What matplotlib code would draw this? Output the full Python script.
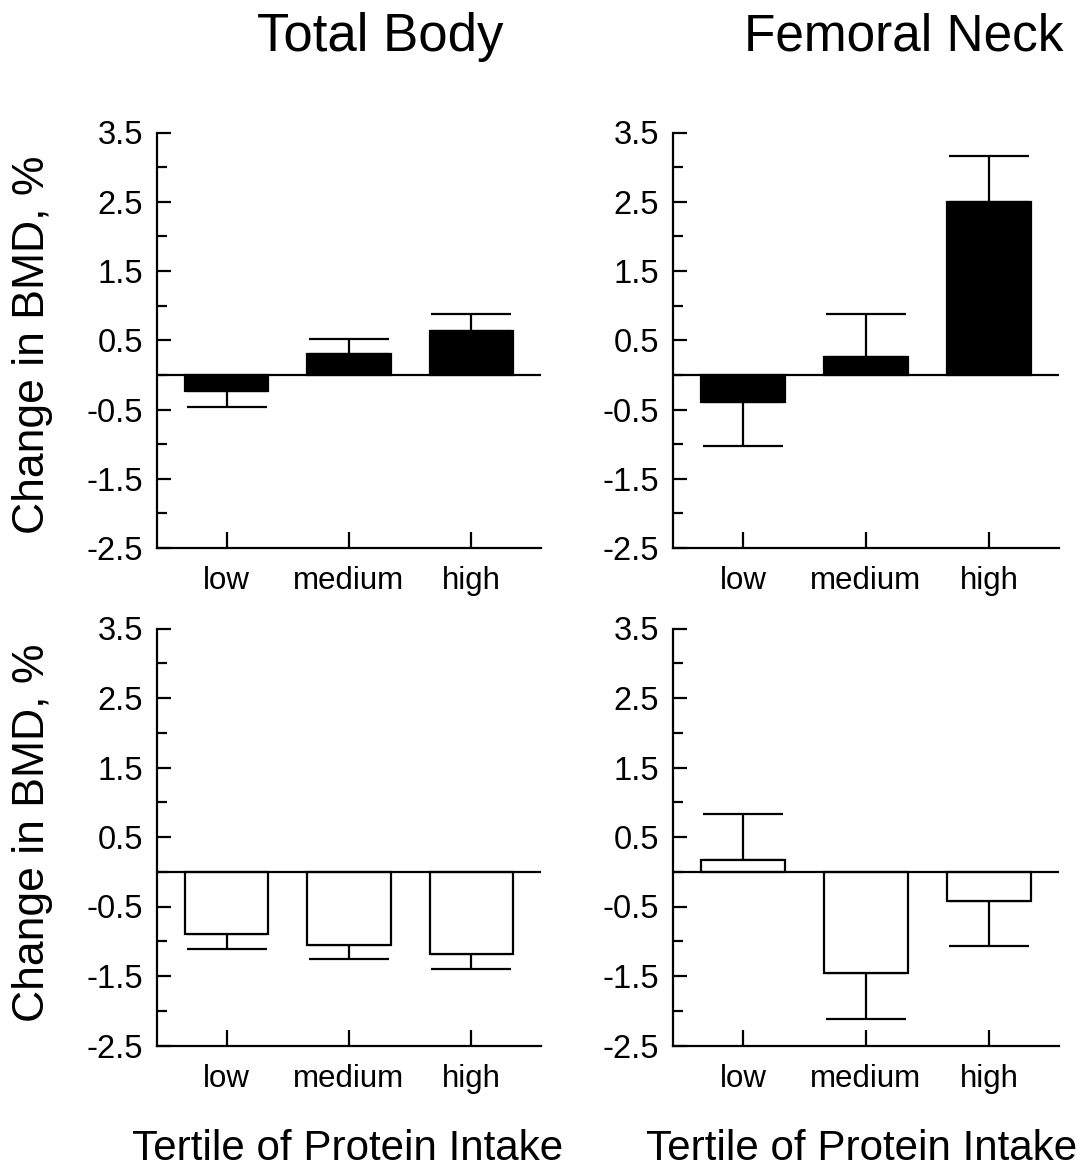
import matplotlib
matplotlib.use('Agg')
import matplotlib.pyplot as plt
import numpy as np

plt.rcParams['font.family'] = ['Liberation Sans', 'DejaVu Sans']
plt.rcParams['axes.unicode_minus'] = False

# tertiles of protein intake
tertiles = ['low', 'medium', 'high']

# mean change in BMD (%) and standard error per tertile
total_body_top = [-0.24, 0.30, 0.64]
total_body_top_se = [0.23, 0.22, 0.24]
femoral_neck_top = [-0.39, 0.26, 2.50]
femoral_neck_top_se = [0.64, 0.62, 0.66]

total_body_bottom = [-0.89, -1.06, -1.19]
total_body_bottom_se = [0.22, 0.20, 0.21]
femoral_neck_bottom = [0.17, -1.45, -0.42]
femoral_neck_bottom_se = [0.66, 0.67, 0.65]

yticks = [-2.5, -1.5, -0.5, 0.5, 1.5, 2.5, 3.5]
yticklabels = ['-2.5', '-1.5', '-0.5', '0.5', '1.5', '2.5', '3.5']
yminor = [-2, -1, 0, 1, 2, 3]

W, H = 1082, 1173
fig = plt.figure(figsize=(W / 100, H / 100), dpi=100)

LW = 1.6


def panel(rect, means, se, filled):
    ax = fig.add_axes(rect)
    x = np.arange(1, len(means) + 1)
    means = np.asarray(means)
    se = np.asarray(se)
    # error bar only on the side away from zero
    lower = np.where(means < 0, se, 0)
    upper = np.where(means >= 0, se, 0)
    ax.errorbar(x, means, yerr=[lower, upper], fmt='none', ecolor='black',
                elinewidth=LW, capsize=29, capthick=LW, zorder=1)
    ax.bar(x, means, width=0.68, color='black' if filled else 'white',
           edgecolor='black', linewidth=LW, zorder=2)
    ax.axhline(0, color='black', lw=LW, zorder=3)

    ax.set_xlim(0.43, 3.57)
    ax.set_ylim(-2.5, 3.5)
    ax.set_xticks(x)
    ax.set_xticklabels(tertiles)
    ax.set_yticks(yticks)
    ax.set_yticklabels(yticklabels)
    ax.set_yticks(yminor, minor=True)

    for s in ('top', 'right'):
        ax.spines[s].set_visible(False)
    for s in ('left', 'bottom'):
        ax.spines[s].set_linewidth(LW)

    ax.tick_params(axis='y', which='major', direction='in', length=10,
                   width=LW, labelsize=23.5, pad=10)
    ax.tick_params(axis='y', which='minor', direction='in', length=7,
                   width=LW)
    ax.tick_params(axis='x', which='major', direction='in', length=11.5,
                   width=LW, labelsize=22.5, pad=13)
    return ax


left_l, left_r = 157 / W, 673 / W
w_l, w_r = 384 / W, 386 / W
bot_t, h_t = 1 - 548 / H, 415.5 / H
bot_b, h_b = 1 - 1045.5 / H, 417 / H

panel([left_l, bot_t, w_l, h_t], total_body_top, total_body_top_se, True)
panel([left_r, bot_t, w_r, h_t], femoral_neck_top, femoral_neck_top_se, True)
panel([left_l, bot_b, w_l, h_b], total_body_bottom, total_body_bottom_se, False)
panel([left_r, bot_b, w_r, h_b], femoral_neck_bottom, femoral_neck_bottom_se, False)

# column titles
fig.text(380 / W, 1 - 37 / H, 'Total Body', fontsize=38, ha='center', va='center')
fig.text(904 / W, 1 - 37 / H, 'Femoral Neck', fontsize=37, ha='center', va='center')

# y labels
for yc in (345, 833):
    fig.text(33 / W, 1 - yc / H, 'Change in BMD, %', fontsize=32,
             rotation=90, ha='center', va='center')

# x labels
for xc in (348, 862):
    fig.text(xc / W, 1 - 1149 / H, 'Tertile of Protein Intake', fontsize=30.3,
             ha='center', va='center')

fig.savefig('out.png', dpi=100)
